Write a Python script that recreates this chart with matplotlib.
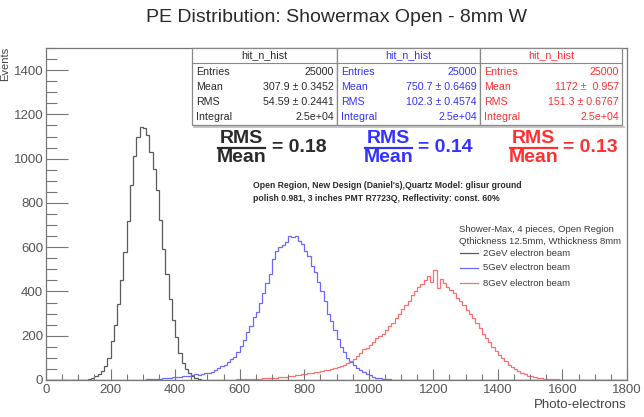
import numpy as np
import matplotlib
matplotlib.use("Agg")
import matplotlib.pyplot as plt
from matplotlib.lines import Line2D
from matplotlib.patches import Rectangle

plt.rcParams['font.family'] = ['Liberation Sans', 'DejaVu Sans']

# ---------------- data ----------------
bin_width = 10
x_range = (0, 1800)

black_start = 130
black_counts = [6, 10, 18, 28, 42, 65, 100, 175, 250, 345, 450, 580, 720, 880, 1010,
                1100, 1145, 1140, 1105, 1030, 955, 860, 725, 590, 480, 365, 272, 195,
                122, 75, 50, 30, 18, 9, 4, 2]

blue_start = 300
blue_counts = [2, 3, 3, 4, 5, 6, 8, 8, 10, 12, 13, 15, 17, 18, 20, 22, 25, 24, 28, 30,
               33, 38, 45, 52, 62, 70, 83, 95, 105, 125, 155, 180, 215, 245, 285, 305,
               350, 395, 440, 480, 545, 585, 600, 612, 625, 650, 645, 652, 630, 615,
               585, 560, 515, 490, 445, 400, 355, 300, 265, 225, 185, 150, 125, 100,
               80, 70, 55, 45, 35, 28, 22, 15, 10, 8, 5, 4, 3, 2, 1]

red_start = 560
red_counts = [1, 2, 2, 3, 3, 4, 4, 5, 5, 6, 6, 7, 8, 9, 10, 11, 12, 14, 15, 17, 19, 21,
              24, 26, 28, 30, 32, 35, 37, 40, 44, 47, 50, 55, 60, 62, 70, 76, 88, 95,
              108, 120, 138, 145, 160, 172, 190, 198, 210, 225, 245, 258, 282, 300,
              322, 340, 358, 385, 400, 420, 432, 450, 470, 445, 495, 415, 455, 440,
              420, 405, 395, 370, 355, 340, 315, 300, 280, 258, 235, 210, 190, 170,
              150, 132, 115, 100, 85, 70, 58, 48, 40, 32, 25, 20, 16, 12, 9, 8, 6, 5,
              4, 3, 3, 2, 2, 1, 1]

series_labels = ["2GeV electron beam", "5GeV electron beam", "8GeV electron beam"]
stat_means = ["307.9 \u00b1 0.3452", "750.7 \u00b1 0.6469", "1172 \u00b1  0.957"]
stat_rms = ["54.59 \u00b1 0.2441", "102.3 \u00b1 0.4574", "151.3 \u00b1 0.6767"]
stat_entries = ["25000", "25000", "25000"]
stat_integral = ["2.5e+04", "2.5e+04", "2.5e+04"]
ratios = ["0.18", "0.14", "0.13"]

# ---------------- figure ----------------
W, H = 644, 417
fig = plt.figure(figsize=(W / 100, H / 100), dpi=100)

def fx(x):
    return x / W

def fy(y):
    return 1 - y / H

ax = fig.add_axes([fx(46), fy(380), fx(627) - fx(46), fy(48) - fy(380)])

edges = np.arange(x_range[0], x_range[1] + bin_width, bin_width)
nb = len(edges) - 1

def full(start, counts):
    arr = np.zeros(nb)
    i0 = (start - x_range[0]) // bin_width
    arr[i0:i0 + len(counts)] = counts
    return arr

line_colors = ["#5a5a5a", "#6a6aff", "#ff6e6e"]
text_colors = ["#2a2a2a", "#3333ff", "#ff3030"]
data = [full(black_start, black_counts), full(blue_start, blue_counts), full(red_start, red_counts)]
for arr, c in zip(data, line_colors):
    ax.stairs(arr, edges, color=c, linewidth=0.9)

ax.set_xlim(0, 1800)
ax.set_ylim(0, 1500)
ax.set_xticks(np.arange(0, 1801, 200))
ax.set_xticks(np.arange(0, 1801, 50), minor=True)
ax.set_yticks(np.arange(0, 1401, 200))
ax.set_yticks(np.arange(0, 1501, 50), minor=True)
ax.tick_params(axis='both', which='both', direction='in', colors='#777777',
               labelcolor='#555555', labelsize=9.5)
ax.tick_params(axis='x', which='major', length=8, width=0.8, pad=3)
ax.tick_params(axis='x', which='minor', length=4, width=0.8)
ax.tick_params(axis='y', which='major', length=16, width=0.8, pad=2)
ax.tick_params(axis='y', which='minor', length=8, width=0.8)
for s in ax.spines.values():
    s.set_color('#777777')
    s.set_linewidth(0.9)

# axis labels
fig.text(fx(5), fy(47), "Events", rotation=90, ha='center', va='top',
         fontsize=8, color='#444444')
fig.text(fx(627), fy(405), "Photo-electrons", ha='right', va='center',
         fontsize=9.5, color='#444444')

# title
fig.text(fx(336), fy(18), "PE Distribution: Showermax Open - 8mm W", ha='center',
         va='center', fontsize=14, color='#2a2a2a')

# stats boxes
boxes = [(192, 337), (337, 480), (480, 622)]
top, head_bot, bot = 48, 63, 125
row_y = [72, 87, 102, 117]
row_names = ["Entries", "Mean", "RMS", "Integral"]
for k, (x0, x1) in enumerate(boxes):
    fig.patches.append(Rectangle((fx(x0), fy(bot)), fx(x1) - fx(x0), fy(top) - fy(bot),
                                 transform=fig.transFigure, facecolor='white',
                                 edgecolor='#888888', linewidth=0.9, zorder=5))
    fig.lines.append(Line2D([fx(x0), fx(x1)], [fy(head_bot), fy(head_bot)],
                            transform=fig.transFigure, color='#888888', linewidth=0.8, zorder=6))
    c = text_colors[k]
    fig.text(fx((x0 + x1) / 2), fy(55.5), "hit_n_hist", ha='center', va='center',
             fontsize=7.7, color=c, zorder=7)
    vals = [stat_entries[k], stat_means[k], stat_rms[k], stat_integral[k]]
    for ry, name, v in zip(row_y, row_names, vals):
        fig.text(fx(x0 + 4), fy(ry), name, ha='left', va='center', fontsize=7.7,
                 color=c, zorder=7)
        fig.text(fx(x1 - 3), fy(ry), v, ha='right', va='center', fontsize=7.7,
                 color=c, zorder=7)
# shadow lines
fig.lines.append(Line2D([fx(194), fx(624)], [fy(126.5), fy(126.5)],
                        transform=fig.transFigure, color='#bbbbbb', linewidth=1.2))

# RMS / Mean fractions
frac_pos = [(218, 265, 272), (365, 412, 418), (510, 557, 563)]
for (a, b, eqx), r, c in zip(frac_pos, ratios, text_colors):
    mid = (a + b) / 2
    fig.text(fx(mid), fy(138.5), "RMS", ha='center', va='center', fontsize=14,
             fontweight='bold', color=c)
    fig.text(fx(mid), fy(158), "Mean", ha='center', va='center', fontsize=14,
             fontweight='bold', color=c)
    fig.lines.append(Line2D([fx(a), fx(b)], [fy(147.5), fy(147.5)],
                            transform=fig.transFigure, color=c, linewidth=1.6))
    fig.text(fx(eqx), fy(148), "= " + r, ha='left', va='center', fontsize=14,
             fontweight='bold', color=c)

# description
fig.text(fx(253), fy(186), "Open Region, New Design (Daniel's),Quartz Model: glisur ground",
         ha='left', va='center', fontsize=6.2, fontweight='bold', color='#2a2a2a')
fig.text(fx(253), fy(199), "polish 0.981, 3 inches PMT R7723Q, Reflectivity: const. 60%",
         ha='left', va='center', fontsize=6.2, fontweight='bold', color='#2a2a2a')

# legend
fig.text(fx(459), fy(230), "Shower-Max, 4 pieces, Open Region", ha='left', va='center',
         fontsize=6.8, color='#3a3a3a')
fig.text(fx(459), fy(242), "Qthickness 12.5mm, Wthickness 8mm", ha='left', va='center',
         fontsize=6.8, color='#3a3a3a')
for yy, lab, c in zip([253, 268, 283], series_labels, line_colors):
    fig.lines.append(Line2D([fx(460), fx(478)], [fy(yy), fy(yy)],
                            transform=fig.transFigure, color=c, linewidth=0.9))
    fig.text(fx(483), fy(yy), lab, ha='left', va='center', fontsize=6.8, color='#3a3a3a')

fig.savefig("out.png", dpi=100)
